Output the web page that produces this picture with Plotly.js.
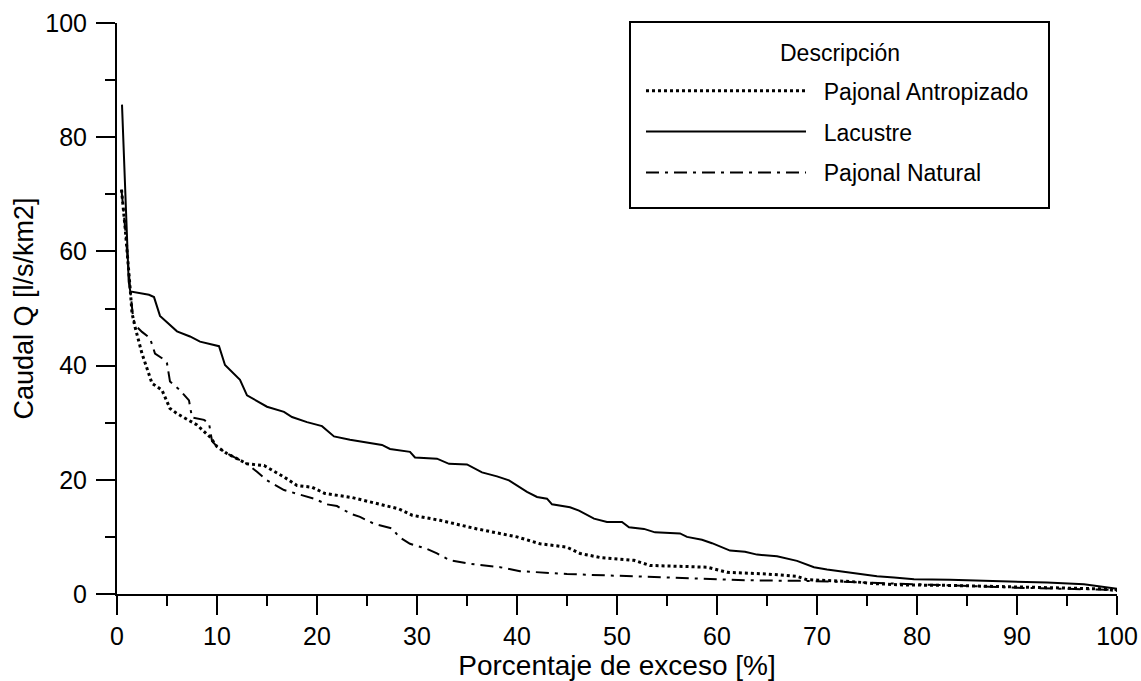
<!DOCTYPE html>
<html>
<head>
<meta charset="utf-8">
<script src="https://cdn.plot.ly/plotly-3.0.1.min.js"></script>
<style>html,body{margin:0;padding:0;background:#fff;}#chart{width:1141px;height:681px;}</style>
</head>
<body>
<div id="chart"></div>
<script>
// Lacustre (solid)
const lacustreX = [0.5,1.17,1.33,3.2,3.7,4.3,6.0,7.3,8.3,10.2,10.8,12.3,13.0,15.0,16.7,17.5,19.0,20.5,21.7,23.3,26.5,27.3,29.3,29.8,32.0,33.2,35.0,36.5,38.0,39.2,41.0,42.0,43.0,43.5,45.3,46.2,47.7,49.0,50.5,51.2,52.7,53.8,56.3,57.0,58.5,59.5,61.3,62.8,64.0,66.0,68.0,69.7,71.0,72.7,74.0,76.0,77.7,79.7,83.3,88.3,93.0,96.7,100];
const lacustreY = [85.7,54.7,53.0,52.4,52.0,48.7,46.0,45.1,44.2,43.4,40.1,37.5,34.8,32.8,31.9,31.0,30.1,29.4,27.6,27.0,26.1,25.4,24.9,23.9,23.7,22.8,22.7,21.3,20.6,19.9,17.9,17.0,16.7,15.7,15.2,14.6,13.2,12.6,12.6,11.7,11.4,10.8,10.6,10.0,9.5,8.9,7.6,7.4,6.9,6.6,5.8,4.7,4.3,3.9,3.6,3.1,2.9,2.6,2.5,2.3,2.0,1.7,0.9];

// Pajonal Antropizado (dotted)
const antropX = [0.45,0.83,1.33,1.5,1.8,2.5,3.5,4.5,5.3,6.0,8.0,9.3,10.0,11.0,13.0,14.7,16.7,18.0,19.5,20.8,23.5,25.5,28.2,29.5,32.3,36.0,40.0,42.3,45.0,46.3,48.3,51.7,53.3,59.0,61.0,65.0,68.0,69.0,73.3,76.0,78.3,83.3,90.0,98.3,100];
const antropY = [70.8,63.8,53.2,49.2,46.8,42.1,36.9,35.7,32.5,31.6,29.6,27.5,25.8,24.6,22.8,22.5,20.5,19.0,18.7,17.6,16.9,16.1,14.9,13.8,12.9,11.4,10.0,8.8,8.2,7.1,6.4,5.9,5.0,4.7,3.8,3.5,3.1,2.5,2.2,1.8,1.6,1.5,1.2,0.9,0.6];

// Pajonal Natural (dash-dot)
const naturalX = [0.45,0.83,1.33,1.6,1.8,2.5,3.3,3.8,4.5,5.0,5.3,6.3,7.2,7.5,8.7,9.2,9.5,10.0,11.0,13.0,14.0,15.0,16.7,18.3,19.7,21.0,22.0,23.3,24.3,25.7,27.5,28.2,29.3,31.0,32.0,33.3,35.3,38.3,40.3,45.0,51.7,58.3,63.2,68.3,73.3,83.3,90.0,100];
const naturalY = [70.8,63.8,53.2,48.5,47.1,45.9,44.8,42.1,41.3,40.4,37.2,35.7,33.9,30.9,30.5,29.9,26.8,25.8,24.6,22.8,21.4,19.9,18.2,17.4,16.7,15.7,15.4,14.1,13.5,12.3,11.5,10.0,8.8,7.9,7.1,5.9,5.3,4.7,4.0,3.5,3.1,2.6,2.4,2.3,2.1,1.5,1.1,0.7];

const seriesNames = ['Pajonal Antropizado','Lacustre','Pajonal Natural'];
const xTitle = 'Porcentaje de exceso [%]';
const yTitle = 'Caudal Q [l/s/km2]';
const legendTitle = 'Descripción';

const FONT = 'Liberation Sans, Arial, Helvetica, sans-serif';
const GAP = '\u00a0\u00a0';

const traces = [
  {x: antropX, y: antropY, name: GAP + seriesNames[0], mode: 'lines', legendgroup: 'a',
   line: {color: '#000', width: 3, dash: '3px,3px'}},
  {x: lacustreX, y: lacustreY, name: GAP + seriesNames[1], mode: 'lines', legendgroup: 'b',
   line: {color: '#000', width: 2}},
  {x: naturalX, y: naturalY, name: GAP + seriesNames[2], mode: 'lines', legendgroup: 'c',
   line: {color: '#000', width: 2, dash: '13px,6px,3px,6px'}}
];

const axisCommon = {
  showline: true, linecolor: '#000', linewidth: 2,
  ticks: 'outside', ticklen: 19, tickwidth: 2, tickcolor: '#000',
  showgrid: false, zeroline: false,
  tickfont: {family: FONT, size: 25, color: '#000'}
};

const layout = {
  width: 1141, height: 681,
  margin: {l: 117, r: 24, t: 23, b: 87},
  paper_bgcolor: '#fff', plot_bgcolor: '#fff',
  showlegend: true,
  font: {family: FONT, color: '#000'},
  xaxis: Object.assign({}, axisCommon, {
    range: [0, 100], dtick: 10, tick0: 0,
    minor: {dtick: 5, ticks: 'outside', ticklen: 10, tickwidth: 2, tickcolor: '#000', showgrid: false},
    title: {text: xTitle, font: {family: FONT, size: 28, color: '#000'}, standoff: 10}
  }),
  yaxis: Object.assign({}, axisCommon, {
    range: [0, 100], dtick: 20, tick0: 0,
    ticklabelstandoff: 4,
    minor: {dtick: 10, ticks: 'outside', ticklen: 10, tickwidth: 2, tickcolor: '#000', showgrid: false},
    title: {text: yTitle, font: {family: FONT, size: 27, color: '#000'}, standoff: 4}
  }),
  shapes: [{
    type: 'rect', xref: 'paper', yref: 'paper', layer: 'below',
    x0: 0.513, x1: 0.932, y0: 0.676, y1: 1.0018,
    line: {color: '#000', width: 2}, fillcolor: '#fff'
  }],
  annotations: [{
    xref: 'paper', yref: 'paper', x: 0.723, y: 0.9483, xanchor: 'center', yanchor: 'middle',
    text: legendTitle, showarrow: false, font: {family: FONT, size: 23, color: '#000'}
  }],
  legend: {
    x: 0.524, y: 0.919, xanchor: 'left', yanchor: 'top',
    bgcolor: 'rgba(0,0,0,0)', borderwidth: 0,
    font: {family: FONT, size: 23, color: '#000'},
    itemwidth: 160,
    traceorder: 'grouped', tracegroupgap: 8,
    itemclick: false, itemdoubleclick: false
  }
};

Plotly.newPlot('chart', traces, layout, {displayModeBar: false, staticPlot: true});
</script>
</body>
</html>
